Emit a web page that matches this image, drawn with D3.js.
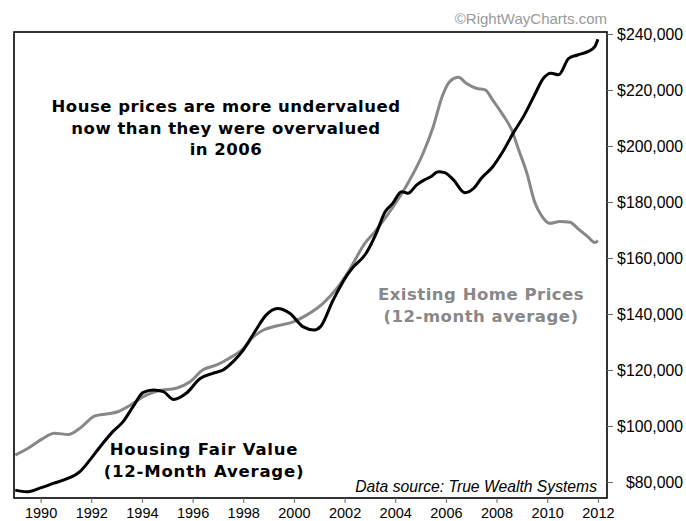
<!DOCTYPE html>
<html>
<head>
<meta charset="utf-8">
<script src="https://cdn.jsdelivr.net/npm/d3@7"></script>
<style>
  body { margin: 0; background: #fff; }
  svg { display: block; }
</style>
</head>
<body>
<svg id="chart" width="686" height="521"></svg>
<script>
// Housing Fair Value (12-month average), black line
const fairYears = [1989.0, 1989.45, 1990.0, 1990.5, 1991.0, 1991.55, 1991.95, 1992.35, 1992.85, 1993.25, 1993.65, 1994.05, 1994.45, 1994.85, 1995.25, 1995.75, 1996.3, 1996.8, 1997.2, 1997.6, 1998.0, 1998.5, 1998.9, 1999.35, 1999.85, 2000.35, 2000.8, 2001.05, 2001.55, 2002.1, 2002.3, 2002.85, 2003.25, 2003.6, 2003.9, 2004.25, 2004.5, 2004.85, 2005.15, 2005.4, 2005.7, 2005.95, 2006.3, 2006.75, 2007.1, 2007.4, 2007.85, 2008.25, 2008.65, 2009.1, 2009.5, 2009.85, 2010.15, 2010.45, 2010.85, 2011.2, 2011.6, 2011.88, 2012.0];
const fairValues = [77.1, 76.5, 77.9, 79.5, 81.0, 83.7, 87.9, 92.6, 98.0, 101.5, 106.9, 112.0, 112.9, 112.3, 109.5, 111.7, 117.0, 118.8, 120.0, 123.0, 127.1, 134.3, 139.6, 142.0, 140.2, 135.5, 134.3, 135.5, 145.0, 153.9, 156.3, 161.7, 168.8, 176.5, 179.5, 183.7, 183.1, 186.1, 187.9, 189.0, 190.8, 190.5, 187.9, 183.3, 184.9, 188.5, 192.6, 198.0, 204.5, 211.1, 218.2, 224.2, 226.0, 225.4, 231.3, 232.5, 233.7, 235.5, 238.1];

// Existing Home Prices (12-month average), grey line
const homeYears = [1989.0, 1989.6, 1990.1, 1990.55, 1991.1, 1991.55, 1992.15, 1992.6, 1993.05, 1993.55, 1994.05, 1994.65, 1995.35, 1995.9, 1996.4, 1996.95, 1997.45, 1998.0, 1998.4, 1998.8, 1999.3, 2000.0, 2000.5, 2001.15, 2001.7, 2002.15, 2002.8, 2003.2, 2003.6, 2004.05, 2004.5, 2005.1, 2005.5, 2005.85, 2006.15, 2006.5, 2006.8, 2007.2, 2007.55, 2007.85, 2008.25, 2008.6, 2008.85, 2009.2, 2009.5, 2009.8, 2010.1, 2010.5, 2010.9, 2011.2, 2011.6, 2011.88, 2012.0];
const homeValues = [89.6, 92.6, 95.6, 97.4, 97.0, 99.2, 103.6, 104.3, 105.1, 107.5, 110.5, 112.6, 113.5, 115.8, 120.0, 121.8, 124.2, 127.7, 131.9, 134.3, 135.7, 137.3, 139.6, 143.8, 149.2, 155.1, 165.2, 169.4, 174.2, 180.1, 186.7, 197.4, 206.9, 217.6, 223.0, 224.5, 222.4, 220.6, 220.0, 216.4, 211.1, 205.7, 199.2, 190.2, 180.1, 174.8, 172.4, 173.0, 172.8, 170.6, 167.6, 165.5, 166.2];

const xTicks = [1990, 1992, 1994, 1996, 1998, 2000, 2002, 2004, 2006, 2008, 2010, 2012];
const yTicks = [80, 100, 120, 140, 160, 180, 200, 220, 240];

const plotL = 14, plotR = 607, plotT = 32, plotB = 498;

const x = d3.scaleLinear().domain([1988.95, 2012.36]).range([plotL, plotR]);
const y = d3.scaleLinear().domain([74.3, 240.7]).range([plotB, plotT]);

const svg = d3.select("#chart");

// lines
const line = d3.line()
  .x(d => x(d[0]))
  .y(d => y(d[1]))
  .curve(d3.curveMonotoneX);

const home = homeYears.map((t, i) => [t, homeValues[i]]);
const fair = fairYears.map((t, i) => [t, fairValues[i]]);

svg.append("path")
  .datum(home)
  .attr("d", line)
  .attr("fill", "none")
  .attr("stroke", "#888")
  .attr("stroke-width", 3)
  .attr("stroke-linejoin", "round");

svg.append("path")
  .datum(fair)
  .attr("d", line)
  .attr("fill", "none")
  .attr("stroke", "#000")
  .attr("stroke-width", 3)
  .attr("stroke-linejoin", "round");

// frame
svg.append("rect")
  .attr("x", plotL).attr("y", plotT)
  .attr("width", plotR - plotL).attr("height", plotB - plotT)
  .attr("fill", "none")
  .attr("stroke", "#000")
  .attr("stroke-width", 1.6);

// axes
const xAxis = svg.append("g")
  .attr("transform", `translate(0,${plotB})`)
  .call(d3.axisBottom(x).tickValues(xTicks).tickFormat(d3.format("d")).tickSize(5).tickPadding(5));
xAxis.select(".domain").remove();
xAxis.selectAll("line").attr("stroke", "#666");
xAxis.selectAll("text")
  .attr("font-family", "Liberation Sans, Arial, sans-serif")
  .attr("font-size", 14.5)
  .attr("fill", "#000");

const yAxis = svg.append("g")
  .attr("transform", `translate(${plotR},0)`)
  .call(d3.axisRight(y).tickValues(yTicks).tickFormat(d => "$" + d3.format(",")(d * 1000)).tickSize(6).tickPadding(0));
yAxis.select(".domain").remove();
yAxis.selectAll("line").attr("stroke", "#666");
yAxis.selectAll("text")
  .attr("x", 76)
  .attr("text-anchor", "end")
  .attr("font-family", "Liberation Sans, Arial, sans-serif")
  .attr("font-size", 15.8)
  .attr("fill", "#000");

// texts
svg.append("text")
  .attr("x", 607).attr("y", 24)
  .attr("text-anchor", "end")
  .attr("font-family", "Liberation Sans, Arial, sans-serif")
  .attr("font-size", 15)
  .attr("fill", "#999")
  .text("\u00A9RightWayCharts.com");

const bold = "DejaVu Sans, Verdana, sans-serif";

const title = svg.append("text")
  .attr("text-anchor", "middle")
  .attr("font-family", bold)
  .attr("font-weight", "bold")
  .attr("font-size", 16.5)
  .attr("letter-spacing", 0.5)
  .attr("fill", "#000");
["House prices are more undervalued", "now than they were overvalued", "in 2006"].forEach((s, i) => {
  title.append("tspan").attr("x", 226).attr("y", 112 + i * 21.5).text(s);
});

const fairLbl = svg.append("text")
  .attr("text-anchor", "middle")
  .attr("font-family", bold)
  .attr("font-weight", "bold")
  .attr("font-size", 16.5)
  .attr("letter-spacing", 0.8)
  .attr("fill", "#000");
["Housing Fair Value", "(12-Month Average)"].forEach((s, i) => {
  fairLbl.append("tspan").attr("x", 204).attr("y", 455 + i * 22).text(s);
});

const homeLbl = svg.append("text")
  .attr("text-anchor", "middle")
  .attr("font-family", bold)
  .attr("font-weight", "bold")
  .attr("font-size", 16.5)
  .attr("letter-spacing", 0.5)
  .attr("fill", "#888");
["Existing Home Prices", "(12-month average)"].forEach((s, i) => {
  homeLbl.append("tspan").attr("x", 481).attr("y", 300 + i * 22).text(s);
});

svg.append("text")
  .attr("x", 597).attr("y", 492)
  .attr("text-anchor", "end")
  .attr("font-family", "Liberation Sans, Arial, sans-serif")
  .attr("font-style", "italic")
  .attr("font-size", 15.7)
  .attr("fill", "#000")
  .text("Data source: True Wealth Systems");
</script>
</body>
</html>
